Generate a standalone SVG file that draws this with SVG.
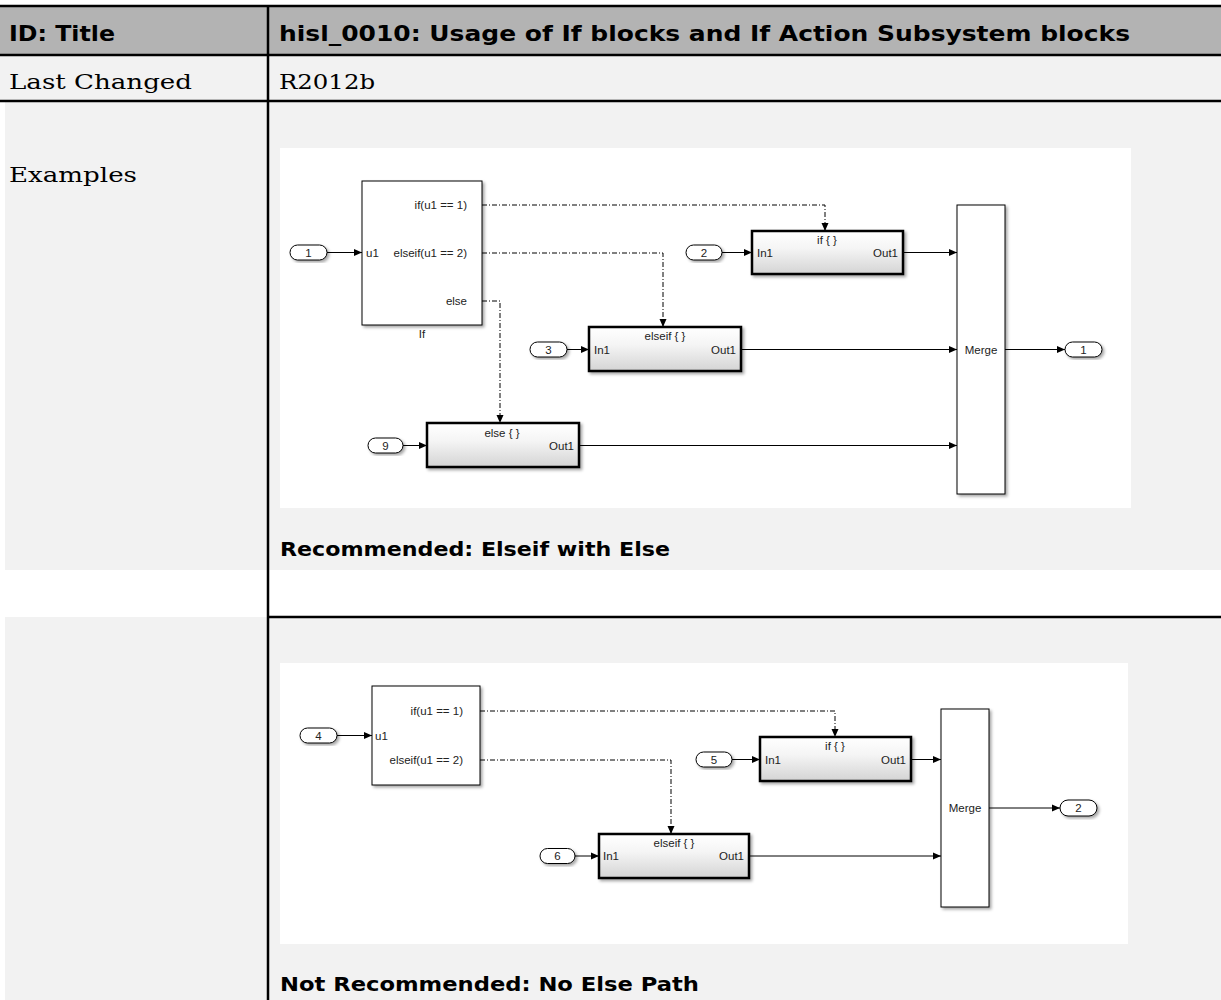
<svg xmlns="http://www.w3.org/2000/svg" width="1221" height="1000" viewBox="0 0 1221 1000">
<defs>
<style>
.hdr{font-family:"DejaVu Sans","Liberation Sans",sans-serif;font-weight:bold;font-size:22px;fill:#000}
.cell{font-family:"DejaVu Serif","Liberation Serif",serif;font-size:21px;fill:#000}
.cap{font-family:"DejaVu Sans","Liberation Sans",sans-serif;font-weight:bold;font-size:20px;fill:#000}
.lbl{font-family:"Liberation Sans",Arial,sans-serif;font-size:11.5px;fill:#222}
.mid{text-anchor:middle}
.end{text-anchor:end}
.tl{stroke:#000;stroke-width:2.5;fill:none}
.blk{fill:#fff;stroke:#000;stroke-width:1;filter:url(#sh)}
.sub{fill:url(#gr);stroke:#000;stroke-width:2.5;filter:url(#sh)}
.port{fill:#fff;stroke:#000;stroke-width:1;filter:url(#sh)}
.w{fill:none;stroke:#000;stroke-width:1;marker-end:url(#ah)}
.dd{fill:none;stroke:#000;stroke-width:1;stroke-dasharray:5 2 1 2;marker-end:url(#ah)}
</style>
<linearGradient id="gr" x1="0" y1="0" x2="0" y2="1">
<stop offset="0" stop-color="#ffffff"/>
<stop offset="0.4" stop-color="#f5f5f5"/>
<stop offset="1" stop-color="#d4d4d4"/>
</linearGradient>
<filter id="sh" x="-10%" y="-10%" width="130%" height="130%">
<feDropShadow dx="2" dy="2" stdDeviation="1.5" flood-color="#000" flood-opacity="0.35"/>
</filter>
<marker id="ah" markerUnits="userSpaceOnUse" markerWidth="8" markerHeight="8" refX="8" refY="4" orient="auto">
<path d="M0,0.5 L8,4 L0,7.5 z" fill="#000" stroke="none"/>
</marker>
</defs>

<g id="table">
<rect x="0" y="6" width="1221" height="49" fill="#b3b3b3"/>
<rect x="0" y="55" width="1221" height="46" fill="#f2f2f2"/>
<rect x="5" y="101" width="1216" height="469" fill="#f2f2f2"/>
<rect x="0" y="570" width="1221" height="47" fill="#ffffff"/>
<rect x="5" y="617" width="1216" height="383" fill="#f2f2f2"/>
<path class="tl" d="M0,6 H1221 M0,55 H1221 M0,101 H1221 M268,617 H1221 M268,6 V1000"/>
<text class="hdr" x="9" y="41" textLength="106" lengthAdjust="spacingAndGlyphs">ID: Title</text>
<text class="hdr" x="279" y="41" textLength="851" lengthAdjust="spacingAndGlyphs">hisl_0010: Usage of If blocks and If Action Subsystem blocks</text>
<text class="cell" x="9" y="89" textLength="183" lengthAdjust="spacingAndGlyphs">Last Changed</text>
<text class="cell" x="279" y="89" textLength="96" lengthAdjust="spacingAndGlyphs">R2012b</text>
<text class="cell" x="9" y="182" textLength="128" lengthAdjust="spacingAndGlyphs">Examples</text>
<rect x="280" y="148" width="851" height="360" fill="#fff"/>
<rect x="280" y="663" width="848" height="281" fill="#fff"/>
<text class="cap" x="280" y="556" textLength="390" lengthAdjust="spacingAndGlyphs">Recommended: Elseif with Else</text>
<text class="cap" x="280" y="991" textLength="419" lengthAdjust="spacingAndGlyphs">Not Recommended: No Else Path</text>
</g>

<g id="connectors">
<path class="dd" d="M482,205 H825 V231"/>
<path class="dd" d="M482,253 H663 V327"/>
<path class="dd" d="M482,301 H500 V423"/>
<path class="w" d="M327,252.5 H362"/>
<path class="w" d="M722,252.5 H752"/>
<path class="w" d="M567,349.5 H589"/>
<path class="w" d="M403,445.5 H427"/>
<path class="w" d="M903,252.5 H957"/>
<path class="w" d="M741,349.5 H957"/>
<path class="w" d="M579,445.5 H957"/>
<path class="w" d="M1005,349.5 H1065"/>
<path class="dd" d="M480,711 H835 V737"/>
<path class="dd" d="M480,760 H671 V834"/>
<path class="w" d="M337,735.5 H372"/>
<path class="w" d="M732,759.5 H760"/>
<path class="w" d="M575,856 H599"/>
<path class="w" d="M911,759.5 H941"/>
<path class="w" d="M749,856 H941"/>
<path class="w" d="M989,808 H1060"/>
</g>

<g id="if1">
<rect class="blk" x="362" y="181" width="120" height="144"/>
<text class="lbl end" x="467" y="209">if(u1 == 1)</text>
<text class="lbl end" x="467" y="257">elseif(u1 == 2)</text>
<text class="lbl end" x="467" y="305">else</text>
<text class="lbl" x="366" y="257">u1</text>
<text class="lbl mid" x="422" y="338">If</text>
</g>
<g id="in1"><rect class="port" x="290" y="245" width="37" height="15" rx="7.5"/><text class="lbl mid" x="308.5" y="256.5">1</text></g>
<g id="in2"><rect class="port" x="686" y="245" width="36" height="15" rx="7.5"/><text class="lbl mid" x="704" y="256.5">2</text></g>
<g id="in3"><rect class="port" x="530" y="342" width="37" height="15" rx="7.5"/><text class="lbl mid" x="548.5" y="353.5">3</text></g>
<g id="in9"><rect class="port" x="368" y="438" width="35" height="15" rx="7.5"/><text class="lbl mid" x="385.5" y="449.5">9</text></g>
<g id="out1"><rect class="port" x="1065" y="342" width="37" height="15" rx="7.5"/><text class="lbl mid" x="1083.5" y="353.5">1</text></g>
<g id="ifsub1">
<rect class="sub" x="752" y="231" width="151" height="43"/>
<text class="lbl mid" x="827" y="244">if { }</text>
<text class="lbl" x="757" y="256.5">In1</text>
<text class="lbl end" x="898" y="256.5">Out1</text>
</g>
<g id="elseifsub1">
<rect class="sub" x="589" y="327" width="152" height="44"/>
<text class="lbl mid" x="665" y="340">elseif { }</text>
<text class="lbl" x="594" y="353.5">In1</text>
<text class="lbl end" x="736" y="353.5">Out1</text>
</g>
<g id="elsesub1">
<rect class="sub" x="427" y="423" width="152" height="44"/>
<text class="lbl mid" x="502" y="437">else { }</text>
<text class="lbl end" x="574" y="449.5">Out1</text>
</g>
<g id="merge1">
<rect class="blk" x="957" y="205" width="48" height="289"/>
<text class="lbl mid" x="981" y="353.5">Merge</text>
</g>

<g id="if2">
<rect class="blk" x="372" y="686" width="108" height="99"/>
<text class="lbl end" x="463" y="715">if(u1 == 1)</text>
<text class="lbl end" x="463" y="764">elseif(u1 == 2)</text>
<text class="lbl" x="375" y="739.5">u1</text>
</g>
<g id="in4"><rect class="port" x="300" y="728" width="37" height="15" rx="7.5"/><text class="lbl mid" x="318.5" y="739.5">4</text></g>
<g id="in5"><rect class="port" x="696" y="752" width="36" height="15" rx="7.5"/><text class="lbl mid" x="714" y="763.5">5</text></g>
<g id="in6"><rect class="port" x="540" y="848.5" width="35" height="15" rx="7.5"/><text class="lbl mid" x="557.5" y="860">6</text></g>
<g id="out2"><rect class="port" x="1060" y="800" width="37" height="16" rx="8"/><text class="lbl mid" x="1078.5" y="812">2</text></g>
<g id="ifsub2">
<rect class="sub" x="760" y="737" width="151" height="44"/>
<text class="lbl mid" x="835" y="750">if { }</text>
<text class="lbl" x="765" y="763.5">In1</text>
<text class="lbl end" x="906" y="763.5">Out1</text>
</g>
<g id="elseifsub2">
<rect class="sub" x="599" y="834" width="150" height="44"/>
<text class="lbl mid" x="674" y="847">elseif { }</text>
<text class="lbl" x="603" y="860">In1</text>
<text class="lbl end" x="744" y="860">Out1</text>
</g>
<g id="merge2">
<rect class="blk" x="941" y="709" width="48" height="198"/>
<text class="lbl mid" x="965" y="812">Merge</text>
</g>
</svg>
